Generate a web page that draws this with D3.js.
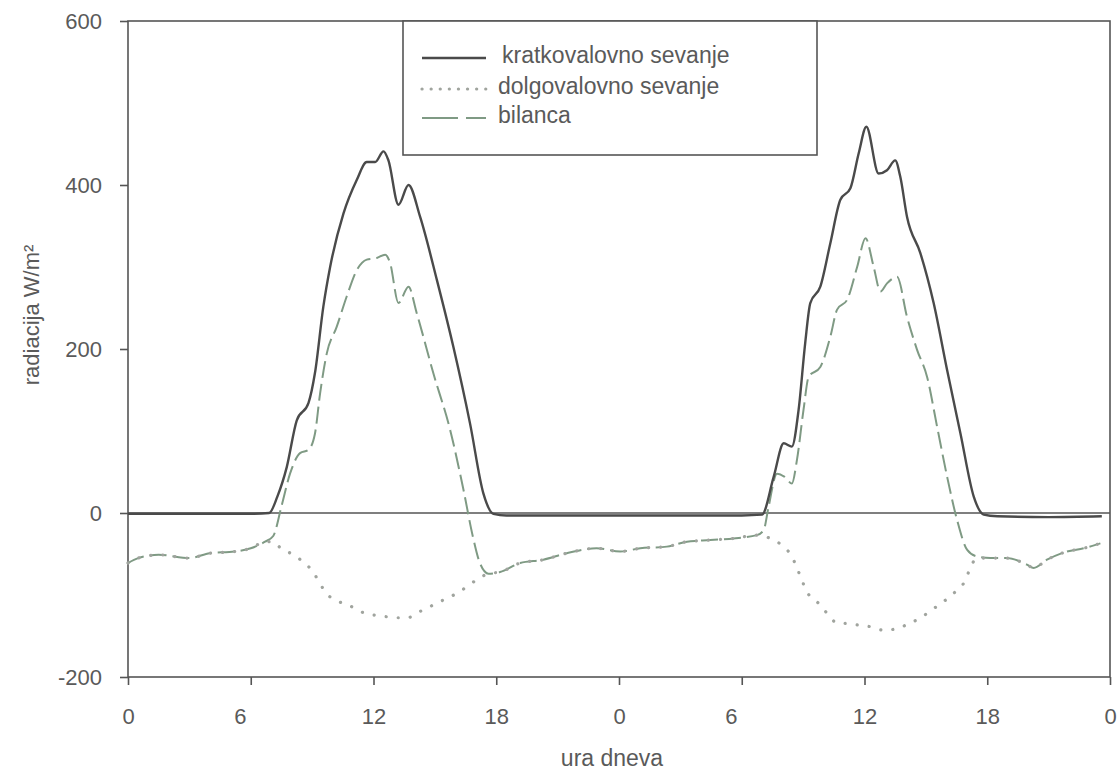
<!DOCTYPE html>
<html lang="en">

<head>
    <meta charset="UTF-8">
    <script src="https://d3js.org/d3.v7.min.js"></script>
    <title>Radiacija</title>
    <style>
        body {
            margin: 0;
            background: white;
        }

        text {
            font-family: "Liberation Sans", Arial, sans-serif;
            fill: #5a5a5a;
        }
    </style>
</head>

<body>
    <div id="chart"></div>

    <script>
        // Hour ticks (two days) and y ticks
        const hourTicks = [0, 6, 12, 18, 24, 30, 36, 42, 48];
        const valueTicks = [-200, 0, 200, 400, 600];

        // kratkovalovno sevanje [hour, W/m2]
        const shortwave = [
            [0, -1], [3, -1], [6, -1], [6.9, 0], [7.3, 20], [7.76, 56], [8.25, 113], [8.82, 134],
            [9.14, 171], [9.55, 252], [9.88, 300], [10.53, 365], [11.18, 406], [11.67, 428],
            [12.08, 428], [12.49, 441], [12.73, 430], [13.22, 376], [13.71, 400], [14.28, 361],
            [15.1, 284], [15.9, 203], [16.72, 109], [17.37, 24], [17.86, -1], [18.5, -3],
            [24, -3], [30, -3], [30.99, -2], [31.56, 44], [32.05, 85], [32.45, 81], [32.78, 126],
            [33.1, 207], [33.35, 256], [33.84, 276], [34.33, 329], [34.82, 382], [35.31, 396],
            [35.72, 439], [36.09, 471], [36.69, 414], [37.1, 418], [37.5, 430], [37.75, 410],
            [38.08, 361], [38.73, 317], [39.38, 256], [40.04, 174], [40.69, 97], [41.34, 20],
            [41.83, -2], [42.5, -4], [45, -5], [47.6, -4]
        ];

        // dolgovalovno sevanje
        const longwave = [
            [0, -61], [0.5, -55], [1.5, -51], [3, -55], [4, -49], [5.2, -47], [6, -43], [6.7, -35],
            [7.1, -35], [7.43, -42], [8.07, -51], [8.98, -70], [9.3, -82], [9.63, -96], [10.2, -107],
            [10.76, -112], [11.34, -120], [12.47, -126], [13.62, -128], [14.28, -120], [15.42, -106],
            [16.07, -98], [16.56, -90], [17.13, -80], [17.62, -74], [18.19, -72], [19.17, -61],
            [20.3, -57], [21.45, -49], [22.9, -43], [24.06, -47], [25.04, -43], [26.34, -41],
            [27.32, -35], [28.46, -33], [29.6, -31], [30.74, -27], [31.07, -28], [31.39, -31],
            [32.04, -41], [32.45, -53], [32.7, -67], [32.94, -82], [33.18, -96], [33.67, -108],
            [34.16, -122], [34.65, -134], [35.22, -135], [35.79, -137], [36.36, -139], [36.93, -143],
            [37.59, -141], [38.16, -135], [38.73, -128], [39.3, -118], [39.87, -108], [40.44, -96],
            [40.93, -82], [41.17, -67], [41.5, -55], [42.15, -55], [42.97, -55], [43.94, -63],
            [44.27, -67], [44.92, -57], [45.9, -47], [46.71, -43], [47.53, -37]
        ];

        // bilanca
        const balance = [
            [0, -61], [0.5, -55], [1.5, -51], [3, -55], [4, -49], [5.2, -47], [6, -43], [6.7, -35],
            [7.1, -28], [7.5, 8], [7.92, 48], [8.41, 73], [8.82, 77], [9.14, 97], [9.39, 146],
            [9.72, 195], [10.2, 227], [10.69, 264], [11.18, 296], [11.67, 309], [12.16, 311],
            [12.57, 315], [12.81, 305], [13.22, 256], [13.71, 276], [14.11, 244], [14.93, 170],
            [15.75, 101], [16.4, 28], [16.85, -28], [17.2, -61], [17.62, -74], [18.19, -72],
            [19.17, -61], [20.3, -57], [21.45, -49], [22.9, -43], [24.06, -47], [25.04, -43],
            [26.34, -41], [27.32, -35], [28.46, -33], [29.6, -31], [30.74, -27], [31.07, -21],
            [31.3, 6], [31.72, 48], [32.1, 44], [32.45, 36], [32.7, 65], [33.02, 126], [33.27, 166],
            [33.84, 178], [34.33, 215], [34.66, 248], [35.15, 260], [35.64, 300], [36.05, 335],
            [36.45, 300], [36.78, 270], [37.1, 280], [37.59, 288], [38.08, 239], [38.57, 199],
            [39.06, 166], [39.55, 105], [40.04, 44], [40.53, -9], [41.02, -45], [41.5, -53],
            [42.15, -55], [42.97, -55], [43.94, -63], [44.27, -67], [44.92, -57], [45.9, -47],
            [46.71, -43], [47.53, -37]
        ];

        const legendLabels = ["kratkovalovno sevanje", "dolgovalovno sevanje", "bilanca"];

        // Set dimensions
        const width = 1120;
        const height = 774;
        const margin = { top: 21, right: 10, bottom: 97, left: 128 };

        const svg = d3.select("#chart").append("svg")
            .attr("width", width)
            .attr("height", height);

        const x = d3.scaleLinear().domain([0, 48]).range([margin.left, width - margin.right]);
        const y = d3.scaleLinear().domain([-200, 600]).range([height - margin.bottom, margin.top]);

        const axisColor = "#555";

        // frame
        svg.append("rect")
            .attr("x", x(0))
            .attr("y", y(600))
            .attr("width", x(48) - x(0))
            .attr("height", y(-200) - y(600))
            .attr("fill", "none")
            .attr("stroke", axisColor)
            .attr("stroke-width", 1.6);

        // y axis (plain hyphen for the minus sign)
        const yAxis = svg.append("g")
            .attr("transform", `translate(${x(0)},0)`)
            .call(d3.axisLeft(y).tickValues(valueTicks).tickSize(8).tickPadding(18)
                .tickFormat(d => String(d)));
        yAxis.select(".domain").remove();

        // x axis
        const xAxis = svg.append("g")
            .attr("transform", `translate(0,${y(-200)})`)
            .call(d3.axisBottom(x).tickValues(hourTicks).tickSize(8).tickPadding(23)
                .tickFormat(d => d % 24));
        xAxis.select(".domain").remove();
        // the "6" labels sit a bit left of their ticks in the original
        xAxis.selectAll(".tick text").attr("dx", d => d % 24 === 6 ? -11 : 0);

        svg.selectAll(".tick line").attr("stroke", axisColor).attr("stroke-width", 1.6);
        svg.selectAll(".tick text")
            .style("font-size", "22px")
            .attr("fill", "#5a5a5a");

        // zero line
        svg.append("line")
            .attr("x1", x(0)).attr("x2", x(48))
            .attr("y1", y(0)).attr("y2", y(0))
            .attr("stroke", axisColor)
            .attr("stroke-width", 1.5);

        // axis titles
        svg.append("text")
            .attr("x", 612)
            .attr("y", 758)
            .attr("dy", "0.35em")
            .attr("text-anchor", "middle")
            .style("font-size", "23px")
            .text("ura dneva");

        svg.append("text")
            .attr("transform", "translate(31,315) rotate(-90)")
            .attr("dy", "0.35em")
            .attr("text-anchor", "middle")
            .style("font-size", "22px")
            .text("radiacija W/m²");

        const line = d3.line()
            .x(d => x(d[0]))
            .y(d => y(d[1]))
            .curve(d3.curveMonotoneX);

        const series = [
            { data: balance, stroke: "#7f9a84", width: 2, dash: "17,6", cap: "butt" },
            { data: longwave, stroke: "#a0a49e", width: 3.2, dash: "0.1,12", cap: "round" },
            { data: shortwave, stroke: "#4a4a4a", width: 2.4, dash: null, cap: "butt" }
        ];

        series.forEach(s => {
            svg.append("path")
                .datum(s.data)
                .attr("d", line)
                .attr("fill", "none")
                .attr("stroke", s.stroke)
                .attr("stroke-width", s.width)
                .attr("stroke-dasharray", s.dash)
                .attr("stroke-linecap", s.cap);
        });

        // legend
        const legend = svg.append("g");
        legend.append("rect")
            .attr("x", 403).attr("y", 21)
            .attr("width", 414).attr("height", 134)
            .attr("fill", "white")
            .attr("stroke", axisColor)
            .attr("stroke-width", 1.6);

        const legendStyles = [series[2], series[1], series[0]];
        const legendY = [58, 89, 118];
        const legendTextX = [502, 498, 498];

        legendLabels.forEach((label, i) => {
            const s = legendStyles[i];
            legend.append("line")
                .attr("x1", 422).attr("x2", 486)
                .attr("y1", legendY[i]).attr("y2", legendY[i])
                .attr("stroke", s.stroke)
                .attr("stroke-width", s.width)
                .attr("stroke-dasharray", s.dash ? (i === 1 ? "0.1,9" : "36,8") : null)
                .attr("stroke-linecap", s.cap);
            legend.append("text")
                .attr("x", legendTextX[i])
                .attr("y", legendY[i] - 3)
                .attr("dy", "0.35em")
                .style("font-size", "23px")
                .text(label);
        });
    </script>
</body>

</html>
